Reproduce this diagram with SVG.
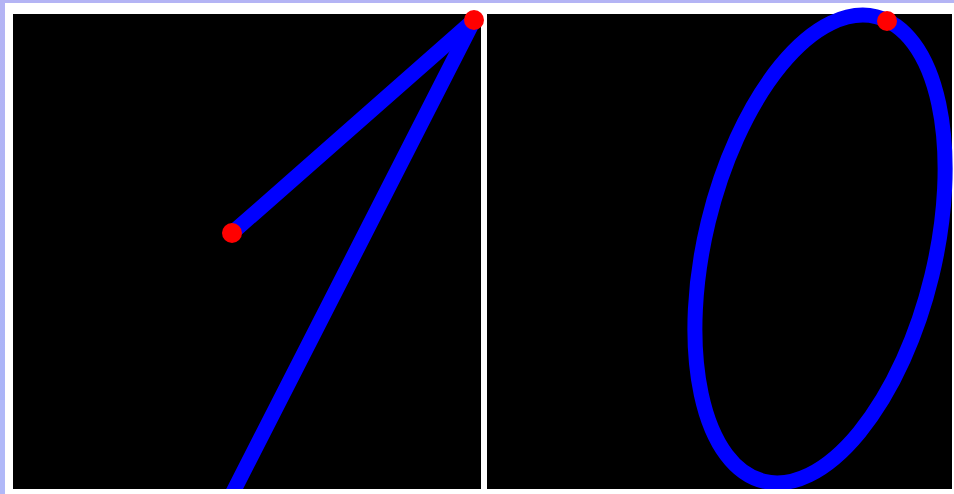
<svg xmlns="http://www.w3.org/2000/svg" width="954" height="494" viewBox="0 0 954 494">
  <defs>
    <style>
      .panel { fill: #000000; }
      .stroke { fill: none; stroke: #0000ff; stroke-width: 15; stroke-linecap: round; }
      .dot { fill: #ff0000; }
      .frame { fill: #ffffff; }
    </style>
    <linearGradient id="edge" x1="0" y1="0" x2="0" y2="1">
      <stop offset="0" stop-color="#b4b4f4"/>
      <stop offset="1" stop-color="#a8b4f8"/>
    </linearGradient>
  </defs>
  <rect x="0" y="0" width="954" height="494" fill="url(#edge)"/>
  <rect class="frame" x="5" y="3" width="949" height="491"/>
  <g id="left-panel">
    <rect class="panel" x="13" y="14" width="468" height="475"/>
    <line class="stroke" x1="474" y1="20" x2="232" y2="233"/>
    <line class="stroke" x1="474" y1="20" x2="229" y2="500"/>
    <circle class="dot" cx="232" cy="233" r="10"/>
    <circle class="dot" cx="474" cy="20" r="10"/>
  </g>
  <g id="right-panel">
    <rect class="panel" x="487" y="14" width="465" height="475"/>
    <ellipse class="stroke" cx="820" cy="249" rx="115" ry="239" transform="rotate(13.6 820 249)"/>
    <circle class="dot" cx="887" cy="21" r="10"/>
  </g>
  <rect class="frame" x="0" y="489" width="954" height="5"/>
  <rect x="0" y="400" width="5" height="94" fill="#b0b8f8"/>
</svg>
